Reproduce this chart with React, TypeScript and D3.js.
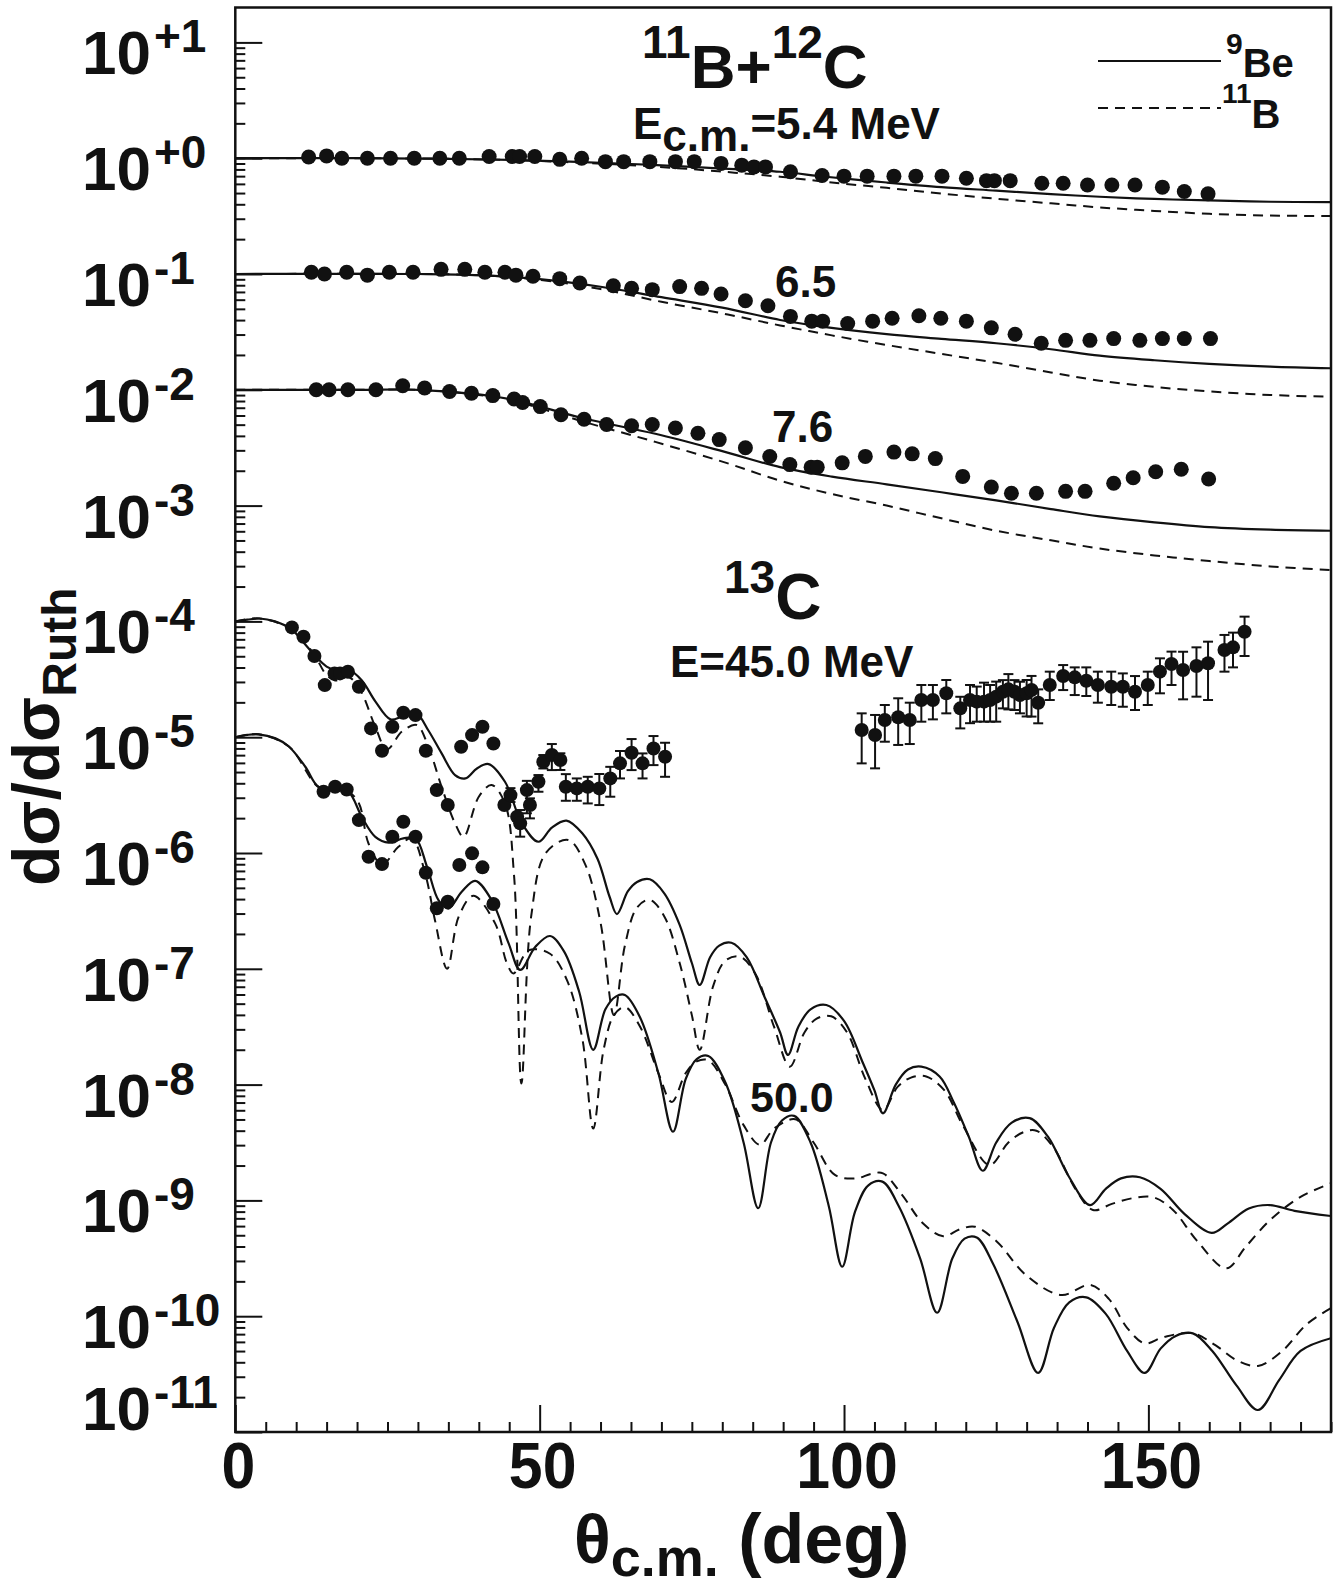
import * as d3 from 'd3';
import React, { useEffect, useRef } from 'react';

// all values are [theta (deg), log10(dsigma/dsigma_Ruth)]
type P = [number, number];
// error points: [theta, log10, err up (decades), err down (decades)]
type E = [number, number, number, number];

const xTicksMajor = [0, 50, 100, 150];
const yDecades = d3.range(-11, 2);

// 11B+12C, 5.4 MeV
const row1Data: P[] = [
  [12.05, 0.01], [15.0, 0.02], [17.5, 0.0], [21.7, 0.0], [25.5, 0.0], [29.4, 0.0], [33.6, 0.0], [36.8, 0.0],
  [41.7, 0.015], [45.5, 0.015], [46.7, 0.015], [49.2, 0.015], [53.3, -0.01], [56.9, 0.0], [60.8, -0.03],
  [63.8, -0.03], [68.1, -0.03], [72.3, -0.03], [75.4, -0.03], [79.8, -0.045], [83.2, -0.06], [85.2, -0.075],
  [87.1, -0.075], [91.2, -0.117], [96.4, -0.149], [100.0, -0.155], [103.8, -0.155], [108.2, -0.155],
  [111.8, -0.155], [116.1, -0.155], [120.1, -0.173], [123.4, -0.194], [124.7, -0.194], [127.3, -0.194],
  [132.5, -0.216], [136.0, -0.216], [140.0, -0.231], [144.0, -0.231], [147.8, -0.231], [152.3, -0.25],
  [155.9, -0.287], [159.8, -0.308],
];
const row1Be: P[] = [
  [0, 0], [20, 0], [35, -0.005], [45, -0.015], [55, -0.03], [65, -0.05], [75, -0.075], [82, -0.095],
  [89.5, -0.117], [97, -0.16], [107, -0.21], [116, -0.25], [125, -0.28], [134, -0.31], [142, -0.333],
  [151, -0.352], [160, -0.364], [170, -0.376], [180, -0.38],
];
const row1B: P[] = [
  [0, 0], [20, 0], [35, -0.005], [45, -0.016], [55, -0.035], [65, -0.06], [75, -0.095], [82, -0.125],
  [89.5, -0.16], [98, -0.21], [107, -0.256], [116, -0.305], [125, -0.35], [134, -0.39], [142, -0.425],
  [151, -0.455], [160, -0.48], [170, -0.495], [180, -0.5],
];

// 6.5 MeV (x 0.1)
const row2Data: P[] = [
  [12.5, -0.985], [14.65, -1.0], [18.3, -0.985], [21.7, -1.01], [25.3, -0.985], [29.2, -0.985], [33.8, -0.96],
  [37.7, -0.96], [41.0, -0.985], [44.3, -0.985], [46.1, -1.01], [48.9, -1.02], [53.3, -1.04], [56.6, -1.078],
  [62.1, -1.101], [65.1, -1.124], [68.5, -1.135], [73.0, -1.109], [76.6, -1.124], [79.8, -1.173],
  [83.8, -1.231], [87.5, -1.274], [91.2, -1.366], [94.7, -1.407], [96.5, -1.407], [100.6, -1.428],
  [104.7, -1.407], [107.9, -1.382], [112.3, -1.36], [115.9, -1.382], [120.1, -1.407], [124.2, -1.465],
  [128.1, -1.52], [132.4, -1.598], [136.4, -1.573], [140.4, -1.573], [144.3, -1.558], [148.6, -1.573],
  [152.3, -1.558], [155.9, -1.558], [160.2, -1.558],
];
const row2Be: P[] = [
  [0, -1], [30, -1], [40, -1.01], [50, -1.045], [60, -1.11], [70, -1.2], [80, -1.29], [89.5, -1.397],
  [97, -1.459], [107, -1.52], [116, -1.56], [125, -1.598], [134, -1.65], [142, -1.705], [151, -1.745],
  [160, -1.776], [170, -1.8], [180, -1.814],
];
const row2B: P[] = [
  [0, -1], [30, -1], [40, -1.01], [50, -1.05], [60, -1.13], [70, -1.24], [80, -1.34], [89.5, -1.444],
  [98, -1.53], [107, -1.613], [116, -1.69], [125, -1.767], [134, -1.85], [142, -1.921], [151, -1.975],
  [160, -2.014], [170, -2.045], [180, -2.06],
];

// 7.6 MeV (x 0.01)
const row3Data: P[] = [
  [13.3, -2.0], [15.4, -2.0], [18.5, -2.0], [23.1, -2.0], [27.5, -1.965], [31.1, -1.985], [35.2, -2.015],
  [38.8, -2.03], [42.3, -2.05], [45.8, -2.08], [47.2, -2.11], [50.1, -2.145], [53.5, -2.216], [57.3, -2.254],
  [61.0, -2.3], [65.1, -2.31], [68.5, -2.3], [72.3, -2.33], [76.0, -2.375], [79.5, -2.43], [83.8, -2.5],
  [87.8, -2.576], [91.1, -2.646], [94.6, -2.668], [95.6, -2.668], [99.7, -2.631], [103.5, -2.575],
  [108.2, -2.538], [111.2, -2.553], [115.0, -2.594], [119.5, -2.748], [124.2, -2.84], [127.5, -2.893],
  [131.6, -2.893], [136.4, -2.877], [139.6, -2.877], [144.3, -2.807], [147.5, -2.76], [151.2, -2.708],
  [155.4, -2.686], [159.9, -2.77],
];
const row3Be: P[] = [
  [0, -2], [20, -2], [30, -2], [40, -2.04], [46, -2.09], [57.5, -2.25], [69, -2.38], [80, -2.53],
  [89.5, -2.668], [98, -2.75], [107, -2.816], [116, -2.885], [125, -2.955], [134, -3.03], [142, -3.093],
  [151, -3.145], [160, -3.186], [170, -3.208], [180, -3.217],
];
const row3B: P[] = [
  [0, -2], [20, -2], [30, -2], [40, -2.045], [46, -2.1], [57.5, -2.28], [69, -2.45], [80, -2.62],
  [89.5, -2.785], [98, -2.9], [107, -3.0], [116, -3.11], [125, -3.217], [134, -3.3], [142, -3.371],
  [151, -3.43], [160, -3.479], [170, -3.525], [180, -3.556],
];

// 13C, 45.0 MeV (x 1e-4)
const c45Data: E[] = [
  [9.3, -4.052, 0, 0], [11.2, -4.132, 0, 0], [13.0, -4.299, 0, 0], [14.7, -4.55, 0, 0], [16.3, -4.449, 0, 0],
  [17.2, -4.449, 0, 0], [18.5, -4.435, 0, 0], [20.3, -4.564, 0, 0], [22.3, -4.924, 0, 0], [24.1, -5.117, 0, 0],
  [25.8, -4.91, 0, 0], [27.6, -4.789, 0, 0], [29.6, -4.809, 0, 0], [31.3, -5.117, 0, 0], [33.1, -5.457, 0, 0],
  [34.9, -5.586, 0, 0], [37.1, -5.082, 0, 0], [38.9, -4.982, 0, 0], [40.6, -4.91, 0, 0], [42.4, -5.054, 0, 0],
  [44.2, -5.586, 0, 0], [45.2, -5.5, 0.06, 0.06], [46.3, -5.687, 0, 0], [46.8, -5.744, 0.115, 0.115],
  [47.9, -5.457, 0.08, 0.2], [48.4, -5.586, 0.058, 0.115], [49.8, -5.385, 0.058, 0.086],
  [50.6, -5.212, 0.058, 0.058], [52.0, -5.154, 0.095, 0.13], [53.4, -5.197, 0.058, 0.086],
  [54.3, -5.428, 0.109, 0.121], [56.1, -5.442, 0.086, 0.107], [57.9, -5.428, 0.086, 0.144],
  [59.8, -5.442, 0.124, 0.144], [61.6, -5.356, 0.1, 0.158], [63.2, -5.226, 0.107, 0.13],
  [65.1, -5.134, 0.118, 0.15], [66.9, -5.226, 0.086, 0.13], [68.7, -5.097, 0.107, 0.144],
  [70.6, -5.169, 0.121, 0.173],
  [102.9, -4.938, 0.144, 0.288], [105.1, -4.981, 0.173, 0.288], [106.7, -4.852, 0.13, 0.187],
  [108.9, -4.828, 0.164, 0.239], [110.8, -4.852, 0.15, 0.207], [112.7, -4.679, 0.13, 0.187],
  [114.6, -4.679, 0.13, 0.167], [116.8, -4.621, 0.115, 0.173], [119.1, -4.751, 0.1, 0.173],
  [120.7, -4.679, 0.13, 0.2], [121.8, -4.693, 0.13, 0.173], [123.0, -4.693, 0.164, 0.173],
  [124.0, -4.679, 0.13, 0.187], [125.0, -4.65, 0.13, 0.216], [126.1, -4.607, 0.1, 0.144],
  [127.0, -4.587, 0.132, 0.173], [128.0, -4.607, 0.1, 0.158], [128.9, -4.636, 0.115, 0.158],
  [130.0, -4.621, 0.115, 0.2], [130.8, -4.592, 0.121, 0.23], [131.9, -4.702, 0.115, 0.178],
  [133.8, -4.549, 0.115, 0.13], [136.0, -4.472, 0.095, 0.121], [137.9, -4.483, 0.086, 0.153],
  [139.8, -4.512, 0.115, 0.132], [141.7, -4.549, 0.115, 0.153], [143.9, -4.564, 0.13, 0.158],
  [145.8, -4.564, 0.115, 0.173], [147.8, -4.607, 0.135, 0.158], [149.9, -4.549, 0.115, 0.173],
  [151.9, -4.434, 0.115, 0.187], [153.8, -4.368, 0.107, 0.181], [155.7, -4.42, 0.158, 0.253],
  [157.9, -4.385, 0.161, 0.265], [159.8, -4.362, 0.187, 0.317], [162.5, -4.247, 0.13, 0.187],
  [163.9, -4.224, 0.127, 0.173], [165.8, -4.089, 0.13, 0.21],
];
const c45Be: P[] = [
  [0, -4.0], [2, -3.985], [4, -3.975], [6.5, -4.0], [9.3, -4.07], [11, -4.17], [13, -4.29], [15, -4.39],
  [16.5, -4.42], [18.6, -4.415], [20.8, -4.51], [23, -4.69], [25.5, -4.846], [27.5, -4.82], [29.8, -4.8],
  [31.7, -4.94], [33.9, -5.14], [36.1, -5.327], [37.8, -5.356], [39.7, -5.27], [41.6, -5.232], [44.3, -5.385],
  [47.1, -5.745], [49.8, -5.903], [52, -5.78], [54.4, -5.72], [57, -5.83], [59.5, -6.05], [61.5, -6.38],
  [62.7, -6.527], [64.5, -6.33], [66, -6.25], [68.1, -6.227], [70.5, -6.35], [73, -6.62], [75, -6.95],
  [76.3, -7.14], [78, -6.9], [79.5, -6.8], [81.5, -6.775], [84, -6.9], [87, -7.25], [89.5, -7.55],
  [90.8, -7.744], [92.5, -7.5], [94.5, -7.35], [97.1, -7.313], [100, -7.45], [103, -7.8], [105, -8.05],
  [106.4, -8.248], [108.5, -8.0], [110.5, -7.87], [112.7, -7.845], [115.7, -7.93], [118, -8.15],
  [120.5, -8.45], [122.8, -8.744], [125, -8.5], [127.5, -8.33], [130.5, -8.29], [133.5, -8.45], [137, -8.8],
  [140.4, -9.04], [143, -8.9], [145.5, -8.81], [148.6, -8.8], [152, -8.9], [156, -9.12], [160.4, -9.28],
  [163, -9.2], [166.5, -9.07], [169.9, -9.04], [174, -9.09], [180, -9.135],
];
const c45B: P[] = [
  [0, -4.0], [4, -3.975], [9.3, -4.07], [13, -4.29], [14.8, -4.45], [16.4, -4.51], [18.6, -4.48],
  [20.5, -4.59], [23, -4.91], [24.9, -5.105], [27.4, -4.95], [29.8, -4.895], [31.7, -5.08], [33.9, -5.43],
  [36.1, -5.744], [37.5, -5.86], [40, -5.514], [42.1, -5.413], [44.3, -5.572], [45.8, -6.2], [47.0, -7.99],
  [48.6, -6.55], [51, -6.0], [54.7, -5.887], [57.5, -6.1], [60, -6.6], [62.2, -7.4], [64, -6.8], [66, -6.47],
  [68.1, -6.405], [70.5, -6.55], [73, -6.95], [75, -7.4], [76.3, -7.7], [78.5, -7.15], [80.5, -6.93],
  [82.9, -6.895], [85.5, -7.05], [88.5, -7.5], [91.1, -7.845], [93.5, -7.55], [95.5, -7.43], [97.9, -7.41],
  [100.5, -7.55], [103.5, -7.95], [106.4, -8.22], [108.8, -8.02], [111, -7.94], [113.5, -7.93],
  [116.5, -8.05], [119.5, -8.35], [123.9, -8.694], [127, -8.5], [129.5, -8.41], [131.6, -8.398],
  [134.5, -8.55], [138, -8.9], [140.9, -9.083], [144, -9.03], [147.5, -8.98], [150.8, -8.973], [154, -9.08],
  [158, -9.35], [162.8, -9.587], [166, -9.4], [170, -9.17], [175, -8.97], [180, -8.852],
];

// 50.0 MeV (x 1e-5)
const c50Data: P[] = [
  [14.5, -5.471], [16.4, -5.428], [18.3, -5.451], [20.3, -5.716], [21.9, -6.032], [24.1, -6.096],
  [25.8, -5.86], [27.6, -5.73], [29.6, -5.86], [31.3, -6.17], [33.1, -6.478], [34.9, -6.421],
  [36.8, -6.104], [38.9, -6.003], [40.6, -6.124], [42.4, -6.441],
];
const c50Be: P[] = [
  [0, -5.0], [2, -4.98], [3.8, -4.975], [6.6, -5.01], [8.8, -5.08], [11.5, -5.255], [13.7, -5.43],
  [16.4, -5.435], [18.6, -5.47], [20.8, -5.69], [23, -5.86], [25.2, -5.91], [27.6, -5.874], [29.6, -5.874],
  [31.5, -6.12], [33.4, -6.41], [35, -6.48], [37.2, -6.335], [39.4, -6.24], [42.1, -6.406], [44.9, -6.78],
  [46.8, -7.01], [49.3, -6.81], [51.7, -6.717], [54, -6.85], [56.5, -7.2], [58.8, -7.7], [60.8, -7.35],
  [62.5, -7.24], [64, -7.226], [66.5, -7.42], [69.5, -7.9], [71.9, -8.407], [74, -7.95], [75.8, -7.78],
  [77.7, -7.753], [80.5, -7.98], [83.5, -8.5], [85.9, -9.068], [88, -8.5], [89.8, -8.31], [91.8, -8.27],
  [94.5, -8.5], [97.5, -9.05], [99.7, -9.573], [101.8, -9.1], [104, -8.87], [106.3, -8.838], [109, -9.05],
  [112.5, -9.5], [115.3, -9.97], [117.8, -9.5], [119.8, -9.33], [121.8, -9.32], [124.5, -9.55],
  [128.5, -10.05], [131.9, -10.49], [134.5, -10.1], [137, -9.88], [139.8, -9.837], [143, -9.98],
  [146.5, -10.3], [149.4, -10.49], [152, -10.28], [154.5, -10.17], [157.3, -10.148], [160.5, -10.3],
  [164.5, -10.6], [168, -10.81], [171.5, -10.55], [175, -10.3], [180, -10.19],
];
const c50B: P[] = [
  [0, -5.0], [3.8, -4.975], [8.8, -5.08], [13.7, -5.43], [16.4, -5.435], [18.6, -5.47], [20.3, -5.57],
  [21.9, -5.92], [24.1, -6.1], [26.8, -5.946], [29, -5.874], [31.2, -6.18], [32.8, -6.58], [34.8, -7.0],
  [36.7, -6.55], [39.1, -6.37], [42.7, -6.61], [44.6, -6.95], [45.7, -7.04], [48.2, -6.84], [51.7, -6.87],
  [54.5, -7.1], [57, -7.6], [58.8, -8.38], [60.5, -7.7], [62.2, -7.4], [64, -7.33], [66.5, -7.5],
  [69.5, -7.9], [71.7, -8.15], [74, -7.9], [75.8, -7.8], [77.7, -7.79], [80.5, -8.0], [83.5, -8.35],
  [86.2, -8.52], [88.5, -8.38], [92, -8.3], [95, -8.5], [98.5, -8.78], [102, -8.81], [104.5, -8.77],
  [106.4, -8.766], [109.5, -8.95], [113, -9.2], [116.3, -9.31], [119, -9.25], [121.5, -9.227], [125, -9.35],
  [130, -9.65], [135.7, -9.817], [140.4, -9.73], [143.5, -9.85], [146.5, -10.1], [149.4, -10.234],
  [152.5, -10.18], [157.3, -10.148], [161, -10.25], [164.5, -10.38], [168, -10.43], [172, -10.3],
  [176, -10.07], [180, -9.93],
];

const FONT = '"Liberation Sans", Arial, Helvetica, sans-serif';

function drawChart(node: SVGSVGElement) {
  const svg = d3.select(node);
  svg.selectAll('*').remove();

  const left = 235.3;
  const right = 1331;
  const top = 7.5;
  const bottom = 1432;

  const x = d3.scaleLinear().domain([0, 180]).range([left, right]);
  const y = d3.scaleLog().domain([1e-11, 20]).range([bottom, 158.2 - 115.8 * Math.log10(20)]);
  const yl = (v: number) => y(Math.pow(10, v));

  svg.append('defs').append('clipPath').attr('id', 'plotclip')
    .append('rect').attr('x', left).attr('y', top).attr('width', right - left).attr('height', bottom - top);

  // ticks (pointing inward)
  const minorX = d3.range(0, 181, 5).filter((v) => v % 50 !== 0);
  const styleTicks = (g: any) => {
    g.select('.domain').remove();
    g.selectAll('line').attr('stroke', '#111').attr('stroke-width', 2);
    g.selectAll('text').remove();
  };
  svg.append('g').attr('transform', `translate(0,${bottom})`)
    .call(d3.axisBottom(x).tickValues(xTicksMajor).tickSizeInner(-27).tickSizeOuter(0))
    .call(styleTicks);
  svg.append('g').attr('transform', `translate(0,${bottom})`)
    .call(d3.axisBottom(x).tickValues(minorX).tickSizeInner(-10).tickSizeOuter(0))
    .call(styleTicks);

  const minorY: number[] = [];
  yDecades.forEach((n) => {
    d3.range(2, 10).forEach((k) => {
      const v = k * Math.pow(10, n);
      if (v < 20) minorY.push(v);
    });
  });
  svg.append('g').attr('transform', `translate(${left},0)`)
    .call(d3.axisLeft(y).tickValues(yDecades.map((n) => Math.pow(10, n))).tickSizeInner(-27).tickSizeOuter(0))
    .call(styleTicks);
  svg.append('g').attr('transform', `translate(${left},0)`)
    .call(d3.axisLeft(y).tickValues(minorY).tickSizeInner(-10).tickSizeOuter(0))
    .call(styleTicks);

  // frame
  svg.append('rect').attr('x', left).attr('y', top).attr('width', right - left).attr('height', bottom - top)
    .attr('fill', 'none').attr('stroke', '#111').attr('stroke-width', 2.5);

  // tick labels
  xTicksMajor.forEach((v) => {
    svg.append('text').attr('transform', `translate(${x(v) + 3},1488) scale(0.95,1)`)
      .attr('text-anchor', 'middle').attr('font-family', FONT).attr('font-weight', 'bold')
      .attr('font-size', 64).attr('fill', '#111').text(v);
  });
  yDecades.forEach((n) => {
    const base = n === -11 ? y(1e-11) - 2 : yl(n) + 32;
    const t = svg.append('text').attr('x', 82).attr('y', base).attr('font-family', FONT)
      .attr('font-weight', 'bold').attr('fill', '#111');
    t.append('tspan').attr('font-size', 62).text('10');
    t.append('tspan').attr('font-size', 46).attr('dx', 3).attr('dy', -22)
      .text(n >= 0 ? `+${n}` : `-${-n}`);
  });

  // axis titles
  const xt = svg.append('text').attr('x', 574).attr('y', 1563).attr('font-family', FONT)
    .attr('font-weight', 'bold').attr('fill', '#111');
  xt.append('tspan').attr('font-size', 68).text('θ');
  xt.append('tspan').attr('font-size', 54).attr('dy', 13).text('c.m.');
  xt.append('tspan').attr('font-size', 70).attr('dy', -13).text(' (deg)');

  const yt = svg.append('text').attr('transform', 'translate(59,886) rotate(-90)')
    .attr('font-family', FONT).attr('font-weight', 'bold').attr('fill', '#111');
  yt.append('tspan').attr('font-size', 66).text('dσ/dσ');
  yt.append('tspan').attr('font-size', 48).attr('dy', 17).text('Ruth');

  // curves
  const line = d3.line<P>()
    .x((d) => x(d[0]))
    .y((d) => yl(d[1]))
    .curve(d3.curveCatmullRom.alpha(0.5));

  const plot = svg.append('g').attr('clip-path', 'url(#plotclip)');
  const solids = [row1Be, row2Be, row3Be, c45Be, c50Be];
  const dashes = [row1B, row2B, row3B, c45B, c50B];
  plot.selectAll('path.be').data(solids).enter().append('path').attr('class', 'be')
    .attr('d', (d) => line(d)).attr('fill', 'none').attr('stroke', '#111').attr('stroke-width', 2.2);
  plot.selectAll('path.b').data(dashes).enter().append('path').attr('class', 'b')
    .attr('d', (d) => line(d)).attr('fill', 'none').attr('stroke', '#111').attr('stroke-width', 2)
    .attr('stroke-dasharray', '10,7');

  // error bars
  const errs = c45Data.filter((d) => d[2] > 0 || d[3] > 0);
  const eg = plot.append('g').attr('stroke', '#111').attr('stroke-width', 2);
  errs.forEach((d) => {
    const cx = x(d[0]);
    const y1 = yl(d[1] + d[2]);
    const y2 = yl(d[1] - d[3]);
    eg.append('line').attr('x1', cx).attr('x2', cx).attr('y1', y1).attr('y2', y2);
    eg.append('line').attr('x1', cx - 5).attr('x2', cx + 5).attr('y1', y1).attr('y2', y1);
    eg.append('line').attr('x1', cx - 5).attr('x2', cx + 5).attr('y1', y2).attr('y2', y2);
  });

  // data points
  const upper = ([] as P[]).concat(row1Data, row2Data, row3Data);
  plot.append('g').selectAll('circle').data(upper).enter().append('circle')
    .attr('cx', (d) => x(d[0])).attr('cy', (d) => yl(d[1])).attr('r', 7.5).attr('fill', '#111');
  const lower: P[] = c45Data.map((d) => [d[0], d[1]] as P).concat(c50Data);
  plot.append('g').selectAll('circle').data(lower).enter().append('circle')
    .attr('cx', (d) => x(d[0])).attr('cy', (d) => yl(d[1])).attr('r', 7).attr('fill', '#111');

  // annotations
  const txt = (xx: number, yy: number) =>
    svg.append('text').attr('x', xx).attr('y', yy).attr('font-family', FONT)
      .attr('font-weight', 'bold').attr('fill', '#111');

  const title = txt(642, 88);
  title.append('tspan').attr('font-size', 46).attr('dy', -30).text('11');
  title.append('tspan').attr('font-size', 62).attr('dy', 30).text('B+');
  title.append('tspan').attr('font-size', 46).attr('dy', -30).text('12');
  title.append('tspan').attr('font-size', 62).attr('dy', 30).text('C');

  const e1 = txt(633, 139);
  e1.append('tspan').attr('font-size', 44).text('E');
  e1.append('tspan').attr('font-size', 44).attr('dy', 12).text('c.m.');
  e1.append('tspan').attr('font-size', 44).attr('dy', -12).text('=5.4 MeV');

  txt(775, 297).attr('font-size', 44).text('6.5');
  txt(772, 442).attr('font-size', 44).text('7.6');

  const c13 = txt(724, 593);
  c13.append('tspan').attr('font-size', 46).text('13');
  c13.append('tspan').attr('font-size', 64).attr('dy', 26).text('C');

  txt(670, 677).attr('font-size', 44).text('E=45.0 MeV');
  txt(750, 1112).attr('font-size', 43).text('50.0');

  // legend
  svg.append('line').attr('x1', 1098).attr('x2', 1221).attr('y1', 61).attr('y2', 61)
    .attr('stroke', '#111').attr('stroke-width', 2);
  svg.append('line').attr('x1', 1098).attr('x2', 1221).attr('y1', 108).attr('y2', 108)
    .attr('stroke', '#111').attr('stroke-width', 2).attr('stroke-dasharray', '10,7');
  const l1 = txt(1226, 54);
  l1.append('tspan').attr('font-size', 30).text('9');
  l1.append('tspan').attr('font-size', 40).attr('dy', 23).text('Be');
  const l2 = txt(1222, 103);
  l2.append('tspan').attr('font-size', 28).text('11');
  l2.append('tspan').attr('font-size', 40).attr('dy', 25).text('B');
}

const App = () => {
  const ref = useRef<SVGSVGElement>(null);
  useEffect(() => {
    if (ref.current) drawChart(ref.current);
  }, []);
  return (
    <svg
      ref={ref}
      width={1339}
      height={1590}
      style={{ position: 'absolute', left: 0, top: 0, background: '#fff' }}
    />
  );
};

export default App;
